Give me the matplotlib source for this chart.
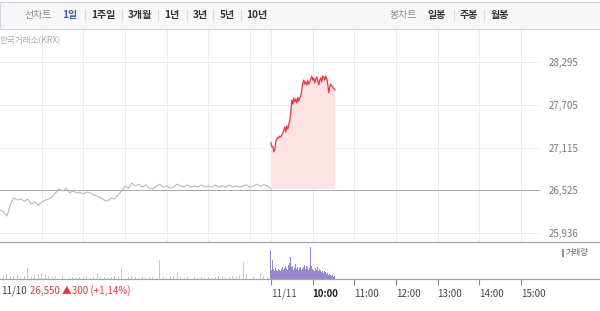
import numpy as np
import matplotlib
matplotlib.use('Agg')
import matplotlib.pyplot as plt
from matplotlib import patches

plt.rcParams['font.family'] = ['Noto Sans CJK KR', 'DejaVu Sans']

# ---- data -------------------------------------------------------------
# 11/10 session (09:00 - 15:30), one price every 5 minutes
prev_price = [26255, 26225, 26170, 26335, 26420, 26390, 26405, 26375, 26405, 26335,
              26365, 26320, 26365, 26390, 26405, 26435, 26490, 26545, 26515, 26555,
              26490, 26515, 26490, 26500, 26475, 26500, 26490, 26460, 26445, 26420,
              26390, 26375, 26420, 26405, 26460, 26515, 26585, 26555, 26625, 26585,
              26610, 26570, 26600, 26555, 26545, 26585, 26610, 26570, 26585, 26555,
              26570, 26610, 26585, 26570, 26600, 26570, 26585, 26570, 26600, 26570,
              26585, 26570, 26600, 26570, 26585, 26570, 26600, 26570, 26585, 26570,
              26585, 26600, 26570, 26585, 26610, 26585, 26600, 26585, 26550]
prev_vol = [4, 3, 5, 2, 3, 4, 2, 3, 11, 2, 3, 5, 6, 4, 3, 2, 3, 2, 3, 2,
            1, 2, 1, 2, 2, 3, 1, 2, 6, 2, 2, 1, 2, 3, 2, 12, 3, 2, 3, 2,
            1, 2, 1, 2, 2, 1, 19, 2, 1, 2, 3, 7, 2, 1, 2, 1, 2, 1, 2, 1,
            2, 1, 2, 3, 2, 1, 2, 3, 2, 4, 17, 5, 3, 2, 4, 6, 3, 2, 4]

# 11/11 session so far (09:00 - 10:32)
today_price = [27180, 27120, 27135, 27055, 27080, 27205, 27235, 27260, 27245, 27275,
               27260, 27290, 27315, 27355, 27400, 27330, 27410, 27370, 27440, 27480,
               27605, 27770, 27715, 27800, 27745, 27785, 27730, 27810, 27755, 27800,
               27825, 27910, 28005, 28045, 27990, 28020, 27980, 28035, 27990, 28020,
               28060, 28100, 28045, 28075, 28005, 28060, 28090, 28035, 27980, 28045,
               28075, 28020, 28100, 28090, 28045, 28100, 28060, 27990, 27870, 27950,
               27990, 27965, 27950, 27925, 27910]
today_vol = [29, 9, 19, 10, 8, 11, 9, 8, 10, 9,
             8, 10, 12, 9, 11, 13, 10, 9, 14, 16,
             22, 12, 13, 9, 11, 15, 10, 12, 9, 11,
             12, 9, 10, 12, 14, 10, 13, 12, 9, 11,
             32, 13, 10, 9, 8, 11, 9, 12, 8, 10,
             9, 7, 8, 6, 8, 7, 5, 6, 4, 5,
             4, 3, 4, 2, 3]

prev_close = 26550
price_ticks = [25936, 26525, 27115, 27705, 28295]
price_labels = ['25,936', '26,525', '27,115', '27,705', '28,295']
time_ticks = [6.5, 7.5, 8.5, 9.5, 10.5, 11.5, 12.5]
time_labels = ['11/11', '10:00', '11:00', '12:00', '13:00', '14:00', '15:00']

periods = ['1일', '1주일', '3개월', '1년', '3년', '5년', '10년']
candles = ['일봉', '주봉', '월봉']

# session hours: 11/10 09:00 = 0, 11/11 09:00 = 6.5
s_prev = np.linspace(0, 6.5, len(prev_price))
s_today = np.linspace(6.5, 6.5 + 92 / 60, len(today_price))

W, H = 600, 311
PX_PER_H = 41.67


def rect(x0, y0, x1, y1):
    return [x0 / W, 1 - y1 / H, (x1 - x0) / W, (y1 - y0) / H]


fig = plt.figure(figsize=(6, 3.11), dpi=100)

# ---- header bar -------------------------------------------------------
hd = fig.add_axes(rect(0, 0, 600, 30))
hd.set_xlim(0, 600)
hd.set_ylim(30, 0)
hd.axis('off')
hd.add_patch(patches.Rectangle((0, 1.5), 600, 27.5, facecolor='#f6f7f9',
                               edgecolor='#d3d5d9', linewidth=0.8))
hd.text(38, 15, '선차트', fontsize=7.2, color='#8a8a8a', ha='center', va='center')
xs = [70, 103, 140, 172, 200, 227, 257]
for i, (x, t) in enumerate(zip(xs, periods)):
    hd.text(x, 15, t, fontsize=7.2, fontweight='bold', ha='center', va='center',
            color='#3f5fae' if i == 0 else '#333333')
for x in [85, 122, 158, 187, 213, 241]:
    hd.plot([x, x], [10, 20], color='#dcdcdc', lw=0.8)
hd.text(403, 15, '봉차트', fontsize=7.2, color='#8a8a8a', ha='center', va='center')
for x, t in zip([437, 469, 500], candles):
    hd.text(x, 15, t, fontsize=7.2, fontweight='bold', ha='center', va='center', color='#333333')
for x in [454, 484]:
    hd.plot([x, x], [10, 20], color='#dcdcdc', lw=0.8)

# ---- price panel ------------------------------------------------------
ax = fig.add_axes(rect(0, 30, 540, 242))
ax.set_xlim(0, 540 / PX_PER_H)
ax.set_ylim(25812, 28736)
for sp in ax.spines.values():
    sp.set_visible(False)
ax.set_xticks([])

for s in [1, 2, 3, 4, 5, 6] + time_ticks:
    ax.axvline(s, color='#ececec', lw=0.7, zorder=0)
for p in price_ticks:
    ax.axhline(p, color='#a8a8a8' if p == 26525 else '#ececec', lw=0.7, zorder=0)

ax.fill_between(s_today, today_price, prev_close, color='#fde3e5', lw=0, zorder=1)
ax.plot(s_prev, prev_price, color='#b8b8b8', lw=0.8, zorder=2)
ax.plot(s_today, today_price, color='#ef3340', lw=0.9, zorder=3)

ax.yaxis.tick_right()
ax.set_yticks(price_ticks, price_labels)
ax.tick_params(axis='y', length=0, pad=6, labelsize=7, labelcolor='#777777')
ax.text(0, 28590, '한국거래소(KRX)', fontsize=6.2, color='#aaaaaa', va='center')

# ---- volume panel -----------------------------------------------------
vx = fig.add_axes(rect(0, 242, 600, 279))
vx.set_xlim(0, 600 / PX_PER_H)
vx.set_ylim(0, 37)
vx.spines['left'].set_visible(False)
vx.spines['right'].set_visible(False)
vx.spines['top'].set_color('#a5a5a5')
vx.spines['bottom'].set_color('#a5a5a5')
vx.spines['top'].set_linewidth(0.9)
vx.spines['bottom'].set_linewidth(0.9)
vx.set_yticks([])

vx.bar(s_prev, prev_vol, width=0.022, color='#c9c9c9', lw=0)
vx.bar(s_today, today_vol, width=0.026, color='#9a86cf', lw=0)

vx.set_xticks(time_ticks, time_labels)
vx.tick_params(axis='x', direction='out', length=4, color='#888888', pad=3,
               labelsize=7, labelcolor='#444444')
for lab in vx.get_xticklabels():
    lab.set_horizontalalignment('left')
    if lab.get_text() == '10:00':
        lab.set_color('#222222')
        lab.set_fontweight('bold')
    if lab.get_text() == '11/11':
        lab.set_color('#555555')

vx.add_patch(patches.Rectangle((562 / PX_PER_H, 22), 2.2 / PX_PER_H, 8,
                               color='#9a86cf', lw=0, clip_on=False))
vx.text(566 / PX_PER_H, 26, '거래량', fontsize=6, color='#666666', va='center')

fig.text(1 / W, 1 - 291 / H, '11/10', fontsize=7, color='#444444', va='center')
fig.text(30 / W, 1 - 291 / H, '26,550 ▲300 (+1,14%)', fontsize=7, color='#e5383f', va='center')

fig.savefig('out.png', dpi=100, facecolor='white')
